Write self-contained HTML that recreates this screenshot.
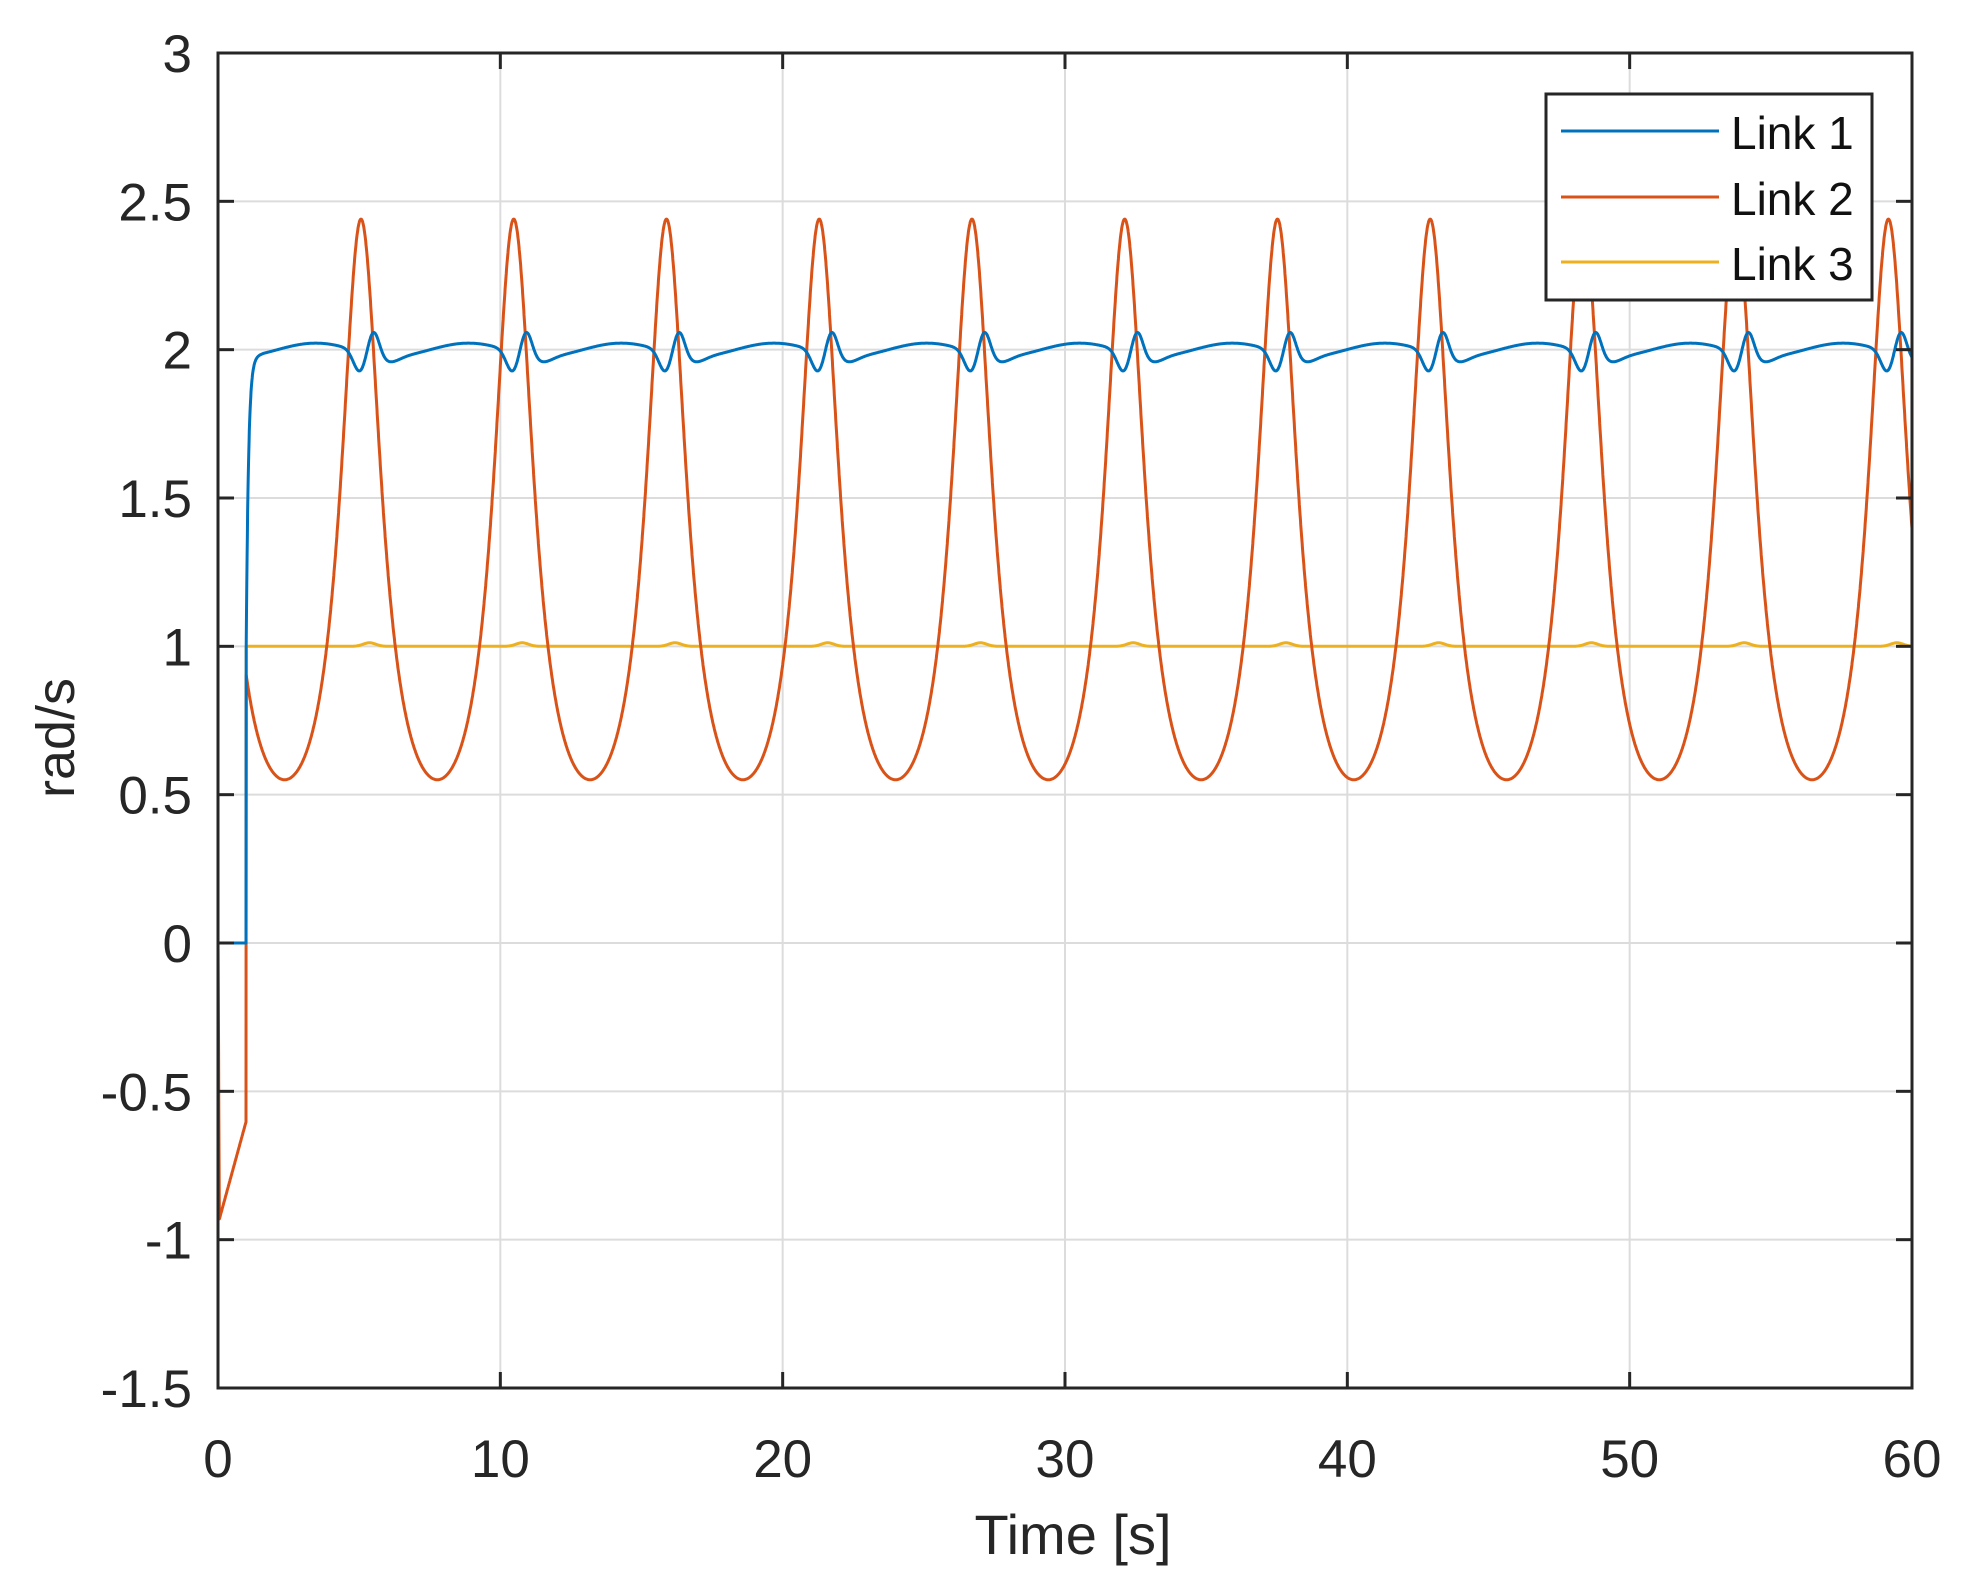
<!DOCTYPE html>
<html><head><meta charset="utf-8"><style>
html,body{margin:0;padding:0;background:#fff;}
svg{display:block;font-family:"Liberation Sans",Arial,sans-serif;}
</style></head><body>
<svg id="s" width="1980" height="1582" viewBox="0 0 1980 1582" xmlns="http://www.w3.org/2000/svg">
<rect width="1980" height="1582" fill="#fff"/>
<g id="grid" stroke="#dcdcdc" stroke-width="2"></g>
<g id="series" fill="none" stroke-width="3" stroke-linejoin="round"></g>
<g id="axes" stroke="#262626" stroke-width="3" fill="none"></g>
<g id="labels" fill="#262626" font-size="53"></g>
<text x="1073" y="1554" font-size="56" fill="#262626" text-anchor="middle">Time [s]</text>
<text transform="translate(74,738) rotate(-90)" font-size="54" fill="#262626" text-anchor="middle">rad/s</text>
<g>
<rect x="1546" y="94" width="326" height="206" fill="#fff" stroke="#262626" stroke-width="3"/>
<line x1="1561" y1="131" x2="1719" y2="131" stroke="#0072BD" stroke-width="3"/>
<line x1="1561" y1="197" x2="1719" y2="197" stroke="#D95319" stroke-width="3"/>
<line x1="1561" y1="262" x2="1719" y2="262" stroke="#EDB120" stroke-width="3"/>
<text x="1731" y="149" font-size="46" fill="#111">Link 1</text>
<text x="1731" y="215" font-size="46" fill="#111">Link 2</text>
<text x="1731" y="280" font-size="46" fill="#111">Link 3</text>
</g>
</svg>
<script>
var L=218,R=1912,T=53,B=1388;
function X(t){return L+(R-L)*t/60;}
function Y(v){return T+(B-T)*(3-v)/4.5;}
var ns="http://www.w3.org/2000/svg";
function el(p,n,a,txt){var e=document.createElementNS(ns,n);for(var k in a)e.setAttribute(k,a[k]);if(txt!=null)e.textContent=txt;document.getElementById(p).appendChild(e);return e;}
for(var t=10;t<60;t+=10)el("grid","line",{x1:X(t),y1:T,x2:X(t),y2:B});
for(var v=-1;v<3;v+=0.5)el("grid","line",{x1:L,y1:Y(v),x2:R,y2:Y(v)});
var P=5.41,t0=2.36,e=0.632,c=0.898;
function red(t){
 if(t<0.05)return -0.93*t/0.05;
 if(t<1)return -0.93+0.33*(t-0.05)/0.95;
 var th=2*Math.PI*(t-t0)/P;return c/(1+e*Math.cos(th));}
function g(x,s){return Math.exp(-x*x/(2*s*s));}
function blue(t){
 if(t<1)return 0;
 var ph=((t-t0)%P+P)%P;
 var tp=ph-P/2;
 var ramp=2.0-0.022*Math.cos(2*Math.PI*(tp-1.1)/P);
 var v=ramp-0.07*g(tp+0.05,0.22)+0.085*g(tp-0.45,0.2)-0.02*g(tp-1.0,0.35);
 if(t<1.6){var k=1-Math.exp(-(t-1)/0.08);v=1+(v-1)*k;}
 return v;}
function yel(t){
 if(t<1)return 0;
 var tp=((t-t0)%P+P)%P-P/2;
 return 1+0.012*g(tp-0.3,0.22);}
function path(f,col){
 var d="",n=6000;
 for(var i=0;i<=n;i++){var t=60*i/n;d+=(i?"L":"M")+X(t).toFixed(1)+" "+Y(f(t)).toFixed(1);}
 el("series","path",{d:d,stroke:col});}
path(yel,"#EDB120");path(red,"#D95319");path(blue,"#0072BD");
el("axes","rect",{x:L,y:T,width:R-L,height:B-T});
for(var t=0;t<=60;t+=10){el("axes","line",{x1:X(t),y1:B,x2:X(t),y2:B-16});el("axes","line",{x1:X(t),y1:T,x2:X(t),y2:T+16});
 el("labels","text",{x:X(t),y:1477,"text-anchor":"middle"},String(t));}
for(var v=-1.5;v<=3.001;v+=0.5){el("axes","line",{x1:L,y1:Y(v),x2:L+16,y2:Y(v)});el("axes","line",{x1:R,y1:Y(v),x2:R-16,y2:Y(v)});
 el("labels","text",{x:192,y:Y(v)+19,"text-anchor":"end"},String(Math.round(v*10)/10));}
</script>
</body></html>
